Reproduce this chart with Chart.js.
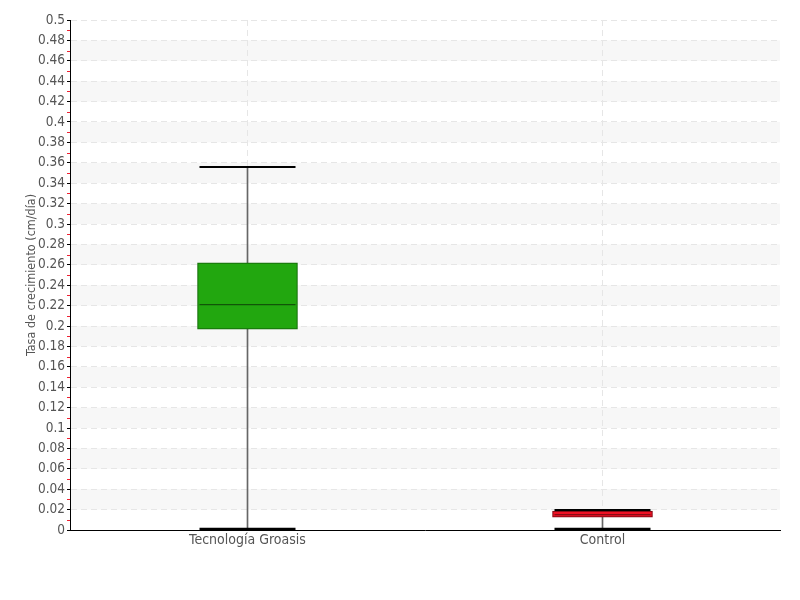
<!DOCTYPE html>
<html>
<head>
<meta charset="utf-8">
<script src="https://cdn.jsdelivr.net/npm/chart.js@4.4.1/dist/chart.umd.min.js"></script>
<style>
html,body{margin:0;padding:0;background:#fff;}
#wrap{width:800px;height:600px;}
</style>
</head>
<body>
<div id="wrap"><canvas id="c" width="800" height="600"></canvas></div>
<script>
const categories = ["Tecnología Groasis", "Control"];
const whiskerMin = [0.001, 0.001];
const q1 = [0.197, 0.0127];
const median = [0.221, 0.015];
const q3 = [0.262, 0.0186];
const whiskerMax = [0.356, 0.0195];
const boxColors = ["#22a70f", "#ee1124"];
const boxBorders = ["#17700b", "#8a0a14"];
const medianColors = ["#115508", "#8a0a14"];
const yMin = 0, yMax = 0.5, yStep = 0.02;

const FONT = "'DejaVu Sans', sans-serif";
const STRETCH = 'condensed';

const bgPlugin = {
  id: 'bands',
  beforeDraw(chart) {
    const {ctx, chartArea: a, scales: {y}} = chart;
    ctx.save();
    ctx.fillStyle = '#f7f7f7';
    for (let v = 0.02; v < yMax - 1e-9; v += 0.04) {
      const top = y.getPixelForValue(v + 0.02), bot = y.getPixelForValue(v);
      ctx.fillRect(a.left, top, a.right - a.left, bot - top);
    }
    ctx.restore();
  },
  afterDraw(chart) {
    const {ctx, chartArea: a, scales: {y}} = chart;
    ctx.save();
    ctx.strokeStyle = '#ee2233';
    ctx.lineWidth = 1;
    for (let v = 0.01; v < yMax; v += 0.02) {
      const py = Math.round(y.getPixelForValue(v)) + 0.5;
      ctx.beginPath();
      ctx.moveTo(a.left - 3, py);
      ctx.lineTo(a.left, py);
      ctx.stroke();
    }
    ctx.restore();
  }
};

new Chart(document.getElementById('c'), {
  data: {
    labels: categories,
    datasets: [
      {
        type: 'line', label: 'max', data: whiskerMax, showLine: false,
        pointStyle: 'line', pointRadius: 48, pointBorderWidth: 2,
        pointBorderColor: '#000', order: 1
      },
      {
        type: 'line', label: 'min', data: whiskerMin, showLine: false,
        pointStyle: 'line', pointRadius: 48, pointBorderWidth: 2.5,
        pointBorderColor: '#000', order: 1
      },
      {
        type: 'line', label: 'median', data: median, showLine: false,
        pointStyle: 'line', pointRadius: 48, pointBorderWidth: 1.2,
        pointBorderColor: medianColors, order: 0
      },
      {
        type: 'bar', label: 'box', data: q1.map((v, i) => [v, q3[i]]),
        backgroundColor: boxColors, borderColor: boxBorders, borderWidth: 1.2,
        barThickness: 100, grouped: false, borderSkipped: false, order: 2
      },
      {
        type: 'bar', label: 'whisker', data: whiskerMin.map((v, i) => [v, whiskerMax[i]]),
        backgroundColor: '#666', barThickness: 1, grouped: false, order: 3
      }
    ]
  },
  options: {
    responsive: false,
    animation: false,
    events: [],
    layout: { autoPadding: false, padding: { left: 0, right: 20, top: 20, bottom: 45 } },
    plugins: { legend: { display: false }, tooltip: { enabled: false } },
    scales: {
      x: {
        type: 'category',
        offset: true,
        grid: { offset: false, color: '#e6e6e6', drawTicks: false },
        border: { color: '#000', width: 1, dash: [6, 4] },
        ticks: { color: '#555', font: { family: FONT, size: 14, weight: STRETCH }, padding: 2 },
        afterFit(s) { s.height = 25; }
      },
      y: {
        min: yMin, max: yMax,
        grid: { color: '#e6e6e6', tickColor: '#000', tickLength: 3, tickBorderDash: [] },
        border: { color: '#000', width: 1, dash: [6, 4] },
        ticks: {
          stepSize: yStep, color: '#555', padding: 2, autoSkip: false,
          font: { family: FONT, size: 13.5, weight: STRETCH },
          callback: v => String(parseFloat(Number(v).toFixed(2)))
        },
        title: {
          display: true, text: 'Tasa de crecimiento (cm/día)', color: '#555',
          font: { family: FONT, size: 12.5, weight: STRETCH }, padding: { top: 24, bottom: 0 }
        },
        afterFit(s) { s.width = 70; }
      }
    }
  },
  plugins: [bgPlugin]
});
</script>
</body>
</html>
